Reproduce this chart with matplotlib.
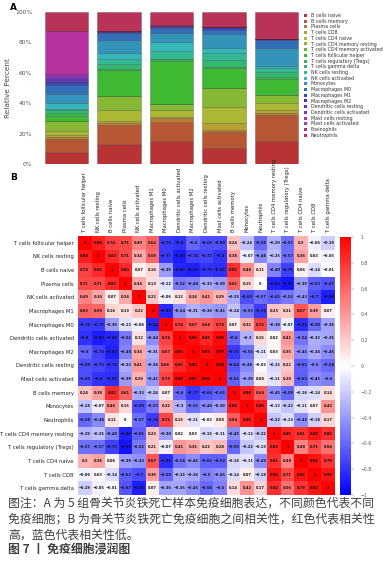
import colorsys
import numpy as np
import matplotlib
matplotlib.use("Agg")
import matplotlib.pyplot as plt
from matplotlib.patches import Patch

# ---- panel A data: relative fraction (%) per sample, bottom -> top
cell_types = ["B cells naive", "B cells memory", "Plasma cells", "T cells CD8",
              "T cells CD4 naive", "T cells CD4 memory resting",
              "T cells CD4 memory activated", "T cells follicular helper",
              "T cells regulatory (Tregs)", "T cells gamma delta", "NK cells resting",
              "NK cells activated", "Monocytes", "Macrophages M0", "Macrophages M1",
              "Macrophages M2", "Dendritic cells resting", "Dendritic cells activated",
              "Mast cells resting", "Mast cells activated", "Eosinophils", "Neutrophils"]

sample1 = [7.7, 8.6, 1.5, 1.0, 3.0, 6.5, 0, 3.0, 2.5, 1.5, 1.0, 4.0, 6.0, 5.5, 1.5, 1.5, 2.0, 2.5, 0, 28.0, 0, 12.7]
sample2 = [13.2, 12.3, 1.3, 1.5, 7.5, 9.0, 0, 17.0, 1.0, 3.3, 3.3, 3.3, 8.7, 4.5, 0.9, 0.3, 0.2, 0.2, 0, 0.3, 0, 12.5]
sample3 = [15.4, 12.5, 2.2, 0.5, 5.0, 4.0, 0, 28.2, 1.0, 0.5, 5.2, 6.0, 5.5, 3.3, 1.1, 0.3, 0.2, 0.1, 0, 0.2, 0, 8.8]
sample4 = [10.3, 10.5, 1.5, 5.0, 9.9, 12.5, 0, 13.2, 1.1, 4.4, 4.4, 3.7, 8.8, 2.9, 1.8, 0.1, 0, 0, 0, 0, 0, 9.9]
sample5 = [15.2, 17.1, 1.5, 1.8, 4.4, 5.5, 0, 10.3, 1.3, 3.1, 2.9, 1.1, 12.1, 5.1, 0.9, 0, 0, 0, 0, 0, 0, 17.7]
samples = [sample1, sample2, sample3, sample4, sample5]

# ---- panel B data: correlation matrix
corr_labels = ["T cells follicular helper", "NK cells resting", "B cells naive", "Plasma cells",
               "NK cells activated", "Macrophages M1", "Macrophages M0",
               "Dendritic cells activated", "Macrophages M2", "Dendritic cells resting",
               "Mast cells activated", "B cells memory", "Monocytes", "Neutrophils",
               "T cells CD4 memory resting", "T cells regulatory (Tregs)",
               "T cells CD4 naive", "T cells CD8", "T cells gamma delta"]
corr = [
    [1, 0.88, 0.74, 0.71, 0.49, 0.62, -0.76, -0.8, -0.6, -0.69, -0.69, 0.24, -0.24, -0.58, -0.29, -0.57, 0.3, -0.06, -0.19],
    [0.88, 1, 0.83, 0.71, 0.34, 0.59, -0.77, -0.89, -0.74, -0.72, -0.8, 0.38, -0.07, -0.46, -0.25, -0.57, 0.36, 0.03, -0.05],
    [0.74, 0.83, 1, 0.83, 0.07, 0.16, -0.39, -0.85, -0.87, -0.79, -0.82, 0.82, 0.46, 0.11, -0.49, -0.75, 0.06, -0.14, -0.01],
    [0.71, 0.71, 0.83, 1, 0.34, 0.13, -0.12, -0.52, -0.48, -0.33, -0.39, 0.61, 0.15, 0, -0.86, -0.92, -0.39, -0.62, -0.67],
    [0.49, 0.34, 0.07, 0.34, 1, 0.22, -0.06, 0.12, 0.34, 0.41, 0.29, -0.33, -0.69, -0.57, -0.61, -0.52, -0.43, -0.7, -0.88],
    [0.62, 0.59, 0.16, 0.13, 0.22, 1, -0.84, -0.44, -0.31, -0.36, -0.41, -0.24, -0.53, -0.76, 0.23, 0.21, 0.67, 0.39, 0.07],
    [-0.76, -0.77, -0.39, -0.12, -0.06, -0.84, 1, 0.74, 0.67, 0.66, 0.73, 0.07, 0.32, 0.72, -0.38, -0.07, -0.82, -0.58, -0.36],
    [-0.8, -0.89, -0.85, -0.52, 0.12, -0.44, 0.74, 1, 0.95, 0.85, 0.96, -0.6, -0.3, 0.15, 0.02, 0.41, -0.54, -0.32, -0.35],
    [-0.6, -0.74, -0.87, -0.48, 0.34, -0.31, 0.67, 0.95, 1, 0.93, 0.97, -0.77, -0.55, -0.11, 0.03, 0.35, -0.45, -0.34, -0.45],
    [-0.69, -0.72, -0.79, -0.33, 0.41, -0.36, 0.66, 0.85, 0.93, 1, 0.98, -0.66, -0.46, -0.03, -0.15, 0.22, -0.61, -0.5, -0.58],
    [-0.69, -0.8, -0.82, -0.39, 0.29, -0.41, 0.73, 0.96, 0.97, 0.98, 1, -0.61, -0.39, 0.08, -0.11, 0.28, -0.62, -0.45, -0.5],
    [0.24, 0.38, 0.82, 0.61, -0.33, -0.24, 0.07, -0.6, -0.77, -0.66, -0.61, 1, 0.86, 0.64, -0.45, -0.59, -0.16, -0.14, 0.14],
    [-0.24, -0.07, 0.46, 0.15, -0.69, -0.53, 0.32, -0.3, -0.55, -0.46, -0.39, 0.86, 1, 0.89, -0.12, -0.22, -0.11, 0.07, 0.42],
    [-0.58, -0.46, 0.11, 0, -0.57, -0.76, 0.72, 0.15, -0.11, -0.03, 0.08, 0.64, 0.89, 1, -0.22, -0.13, -0.45, -0.18, 0.17],
    [-0.29, -0.25, -0.49, -0.86, -0.61, 0.23, -0.38, 0.02, 0.03, -0.15, -0.11, -0.45, -0.12, -0.22, 1, 0.85, 0.81, 0.92, 0.82],
    [-0.57, -0.57, -0.75, -0.92, -0.52, 0.21, -0.07, 0.41, 0.35, 0.22, 0.28, -0.59, -0.22, -0.13, 0.85, 1, 0.48, 0.71, 0.56],
    [0.3, 0.36, 0.06, -0.39, -0.43, 0.67, -0.82, -0.54, -0.45, -0.61, -0.62, -0.16, -0.11, -0.45, 0.81, 0.48, 1, 0.92, 0.79],
    [-0.06, 0.03, -0.14, -0.62, -0.7, 0.39, -0.58, -0.32, -0.34, -0.5, -0.45, -0.14, 0.07, -0.18, 0.92, 0.71, 0.92, 1, 0.92],
    [-0.19, -0.05, -0.01, -0.67, -0.88, 0.07, -0.36, -0.35, -0.45, -0.58, -0.5, 0.14, 0.42, 0.17, 0.82, 0.56, 0.79, 0.92, 1],
]

caption = ["图注：A 为 5 组骨关节炎铁死亡样本免疫细胞表达，不同颜色代表不同",
           "免疫细胞；B 为骨关节炎铁死亡免疫细胞之间相关性，红色代表相关性",
           "高，蓝色代表相关性低。"]
fig_title = "图 7 丨 免疫细胞浸润图"

W, H = 383, 574
fig = plt.figure(figsize=(W / 100, H / 100), dpi=100)

def box(x0, y0, x1, y1):
    # pixel box (top-left origin) -> figure fraction
    return [x0 / W, 1 - y1 / H, (x1 - x0) / W, (y1 - y0) / H]

# ---------------- panel A
colors = [colorsys.hsv_to_rgb(h, 0.72, 0.72) for h in np.linspace(0, 0.955, len(cell_types))]
ax1 = fig.add_axes(box(35, 12, 308, 164))
x = np.arange(len(samples))
data = np.array(samples).T
bottom = np.zeros(len(samples))
for i, name in enumerate(cell_types):
    ax1.bar(x, data[i], bottom=bottom, width=0.82, color=colors[i],
            edgecolor=(0, 0, 0, 0.35), linewidth=0.4)
    bottom += data[i]
ax1.set_xlim(-0.6, 4.6)
ax1.set_ylim(0, 100)
ax1.set_yticks([0, 20, 40, 60, 80, 100])
ax1.set_yticklabels(["0%", "20%", "40%", "60%", "80%", "100%"])
ax1.set_xticks([])
ax1.tick_params(axis="y", length=0, pad=2, labelsize=4.3, labelcolor="#555555")
for s in ax1.spines.values():
    s.set_visible(False)
ax1.set_ylabel("Relative Percent", fontsize=5.3, color="#444444", labelpad=3)

handles = [Patch(facecolor=c, edgecolor="none") for c in colors]
fig.legend(handles, cell_types, loc="upper left", bbox_to_anchor=(304 / W, 1 - 13 / H),
           frameon=False, fontsize=3.4, handlelength=0.6, handleheight=0.6,
           handletextpad=0.8, labelspacing=0.15, borderaxespad=0, borderpad=0,
           labelcolor="#333333")

fig.text(10 / W, 1 - 8 / H, "A", fontsize=6.5, fontweight="bold", va="center")
fig.text(10 / W, 1 - 178 / H, "B", fontsize=6.5, fontweight="bold", va="center")

# ---------------- panel B
ax2 = fig.add_axes(box(78, 236, 335, 495))
m = np.array(corr)
im = ax2.imshow(m, cmap="bwr", vmin=-1, vmax=1, aspect="auto", interpolation="nearest")
n = len(corr_labels)
for i in range(n):
    for j in range(n):
        v = m[i, j]
        t = f"{v:.2f}".rstrip("0").rstrip(".")
        if t in ("-0", ""):
            t = "0"
        t = t.replace("-", "\u2212")
        ax2.text(j, i, t, ha="center", va="center", fontsize=2.6, color="#111111",
                 fontweight="bold")
ax2.set_xticks(range(n))
ax2.set_xticklabels(corr_labels, rotation=90, fontsize=3.8, color="#222222")
ax2.xaxis.tick_top()
ax2.set_yticks(range(n))
ax2.set_yticklabels(corr_labels, fontsize=3.8, color="#222222")
ax2.tick_params(length=0, pad=3)
for s in ax2.spines.values():
    s.set_visible(False)

cax = fig.add_axes(box(340, 237, 351, 495))
cb = fig.colorbar(im, cax=cax, ticks=np.linspace(-1, 1, 11))
cb.ax.set_yticklabels([f"{t:.1f}".rstrip("0").rstrip(".").replace("-", "\u2212") if abs(t) > 1e-9 else "0"
                       for t in np.linspace(-1, 1, 11)])
cb.outline.set_visible(False)
cb.ax.tick_params(length=2, width=0.3, pad=5, labelsize=3.3, labelcolor="#555555", color="#777777")

# ---------------- caption
cjk = ["Noto Sans CJK SC", "DejaVu Sans"]
for k, line in enumerate(caption):
    fig.text(8 / W, 1 - (503 + 16 * k) / H, line, fontsize=8.55, family=cjk,
             color="#404040", va="center")
fig.text(8 / W, 1 - 550 / H, fig_title, fontsize=8.55, family=cjk, color="#404040",
         va="center", fontweight="bold")

fig.savefig("out.png", dpi=100)
